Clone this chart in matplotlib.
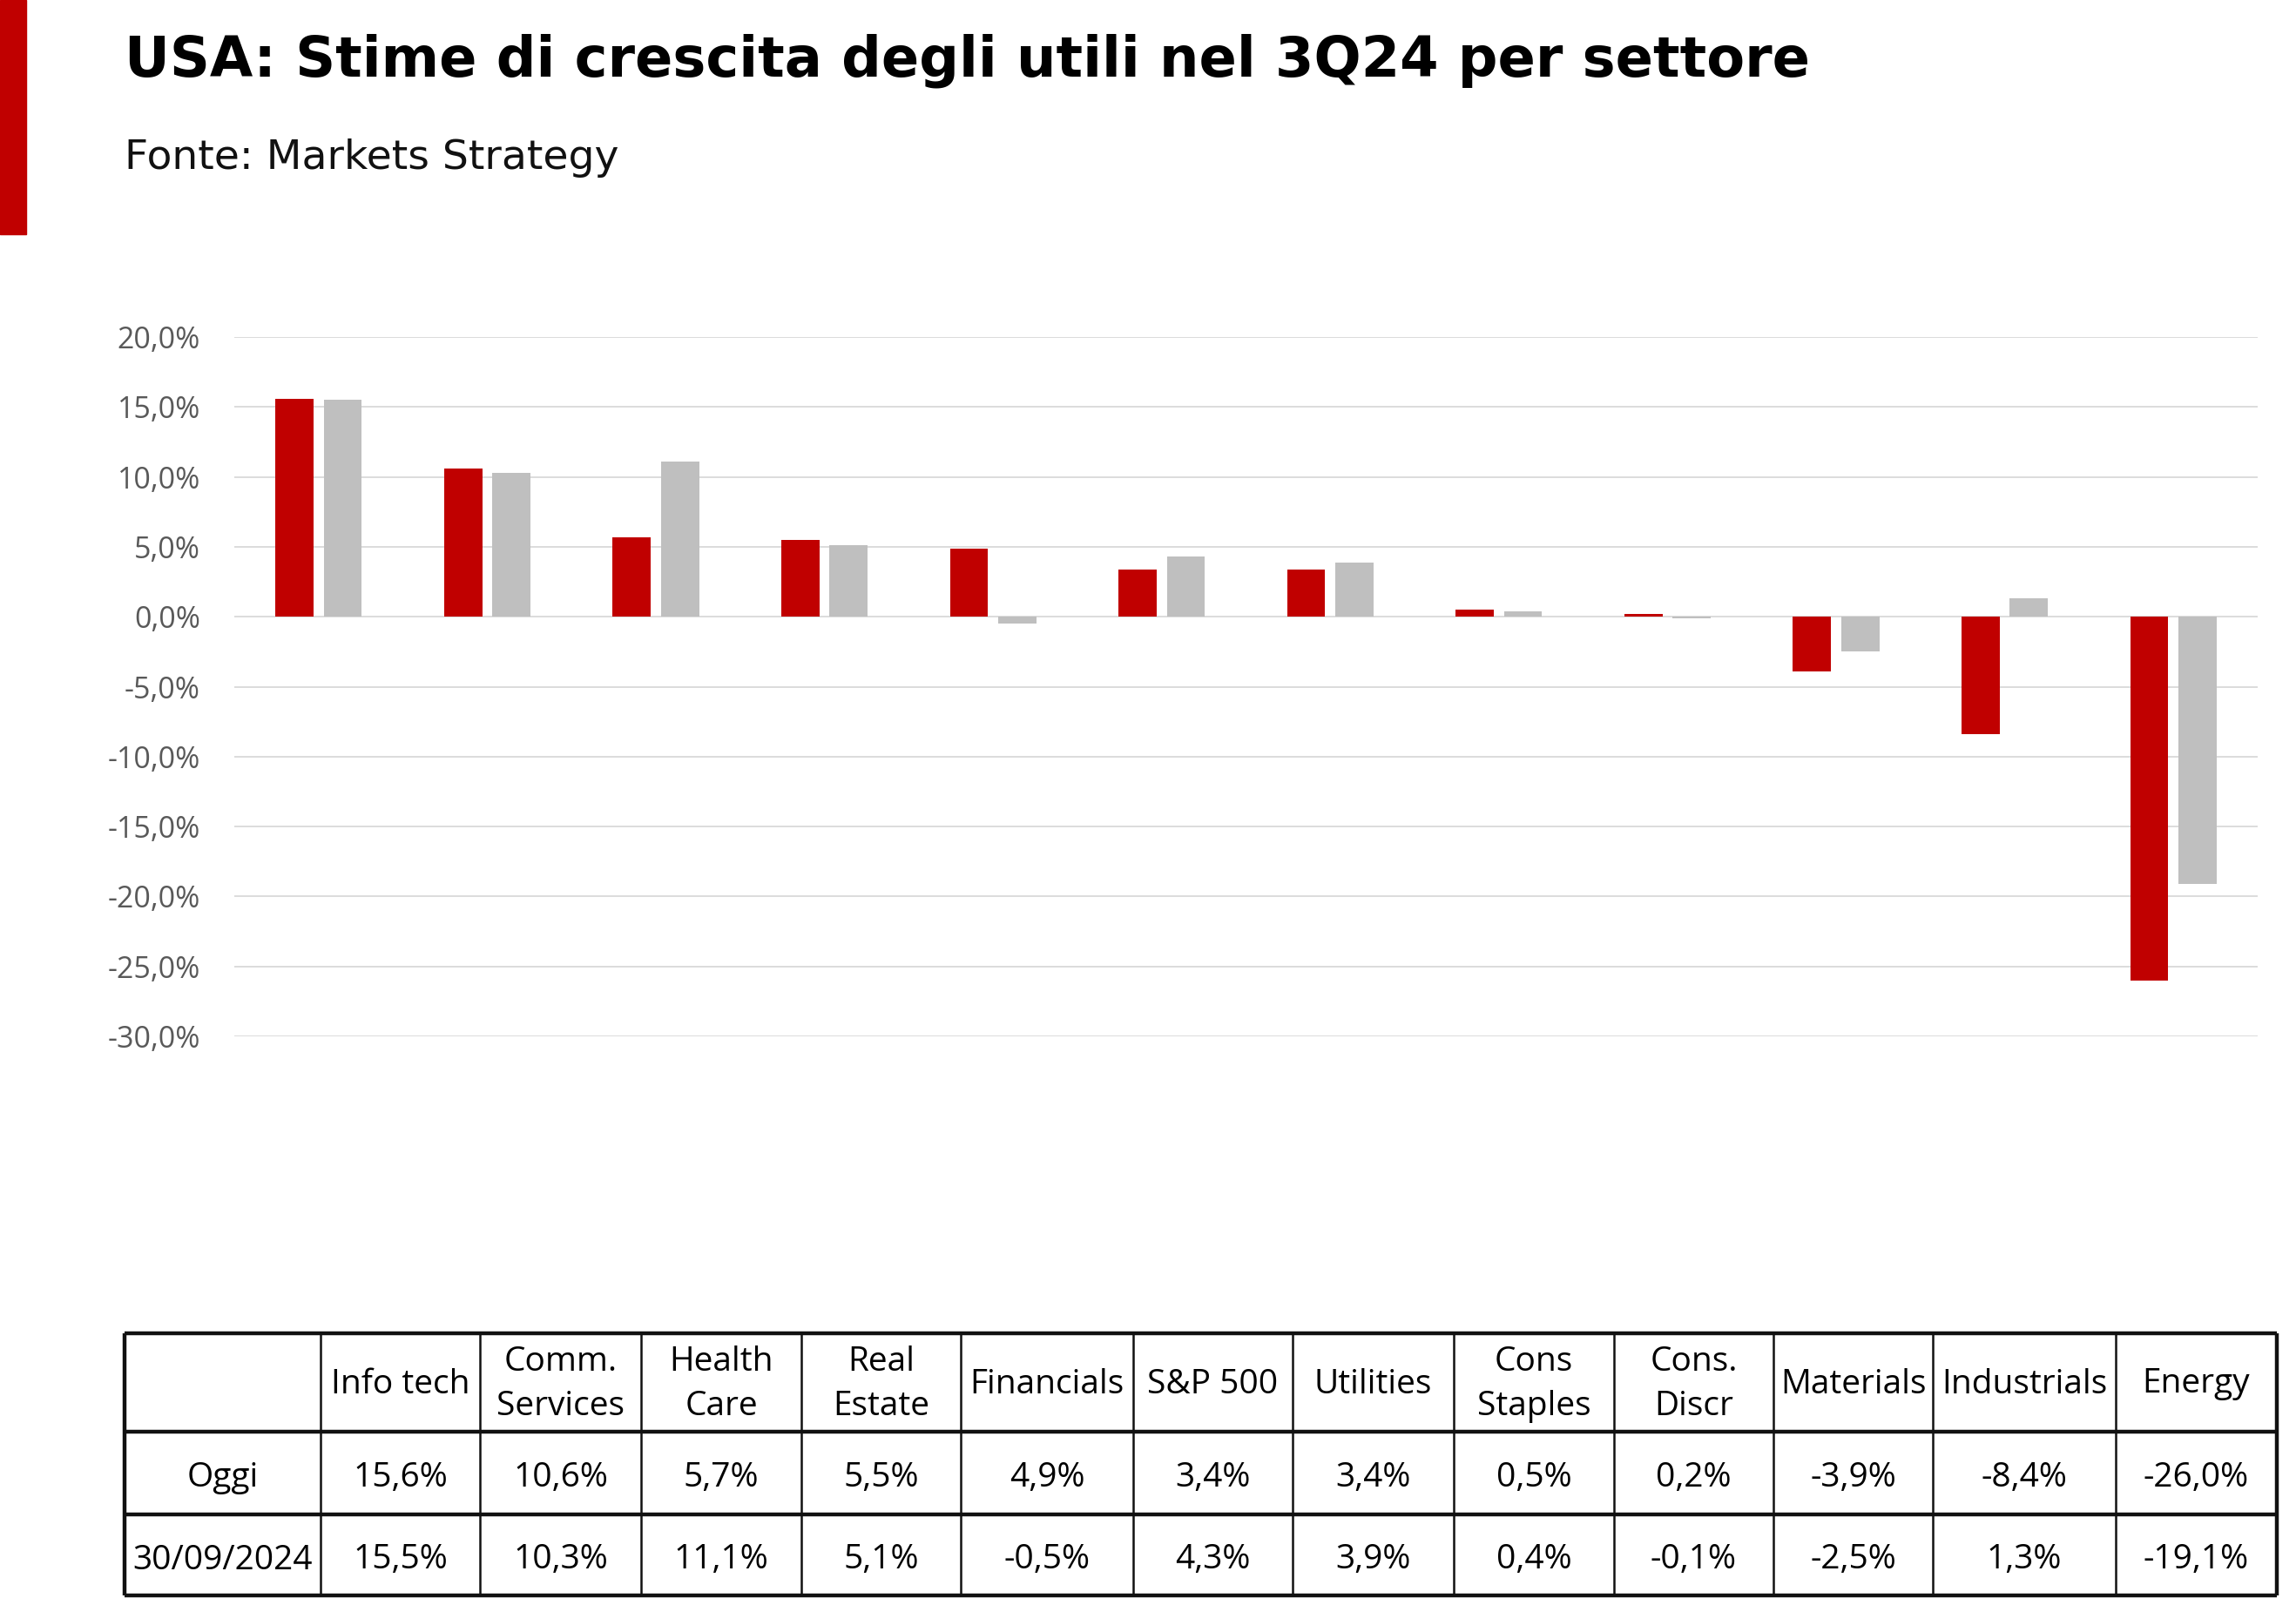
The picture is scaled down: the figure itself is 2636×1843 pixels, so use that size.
import matplotlib
matplotlib.use("Agg")
import matplotlib.pyplot as plt
from matplotlib.ticker import FuncFormatter
import numpy as np

# ---------------- data ----------------
categories = ["Info tech", "Comm.\nServices", "Health\nCare", "Real\nEstate", "Financials",
              "S&P 500", "Utilities", "Cons\nStaples", "Cons.\nDiscr", "Materials",
              "Industrials", "Energy"]
series_names = ["Oggi", "30/09/2024"]
oggi = [15.6, 10.6, 5.7, 5.5, 4.9, 3.4, 3.4, 0.5, 0.2, -3.9, -8.4, -26.0]
sett = [15.5, 10.3, 11.1, 5.1, -0.5, 4.3, 3.9, 0.4, -0.1, -2.5, 1.3, -19.1]
y_ticks = [20, 15, 10, 5, 0, -5, -10, -15, -20, -25, -30]

title = "USA: Stime di crescita degli utili nel 3Q24 per settore"
subtitle = "Fonte: Markets Strategy"

RED = "#C00000"
GREY = "#BFBFBF"

W, H = 2636, 1843
fig = plt.figure(figsize=(W / 100, H / 100), dpi=100)

def fx(px):
    return px / W

def fy(py):
    return 1 - py / H

# red accent bar
fig.patches.append(plt.Rectangle((0, fy(269)), fx(30), 269 / H, transform=fig.transFigure,
                                 color=RED, zorder=5))
fig.text(fx(143), fy(70), title, fontsize=46, fontweight="bold", family=["DejaVu Sans"],
         va="center", ha="left", color="black")
fig.text(fx(143), fy(182), subtitle, fontsize=34, family=["DejaVu Sans"],
         va="center", ha="left", color="#111111")

# ---------------- chart ----------------
ax = fig.add_axes([fx(269), fy(1190), fx(2592 - 269), (1190 - 387) / H])
x = np.arange(len(categories))
bw = 0.226
off = 0.143
ax.bar(x - off, oggi, bw, color=RED, zorder=3)
ax.bar(x + off, sett, bw, color=GREY, zorder=3)
ax.set_xlim(-0.5, len(categories) - 0.5)
ax.set_ylim(min(y_ticks), max(y_ticks))
ax.set_yticks(y_ticks)
ax.yaxis.set_major_formatter(FuncFormatter(lambda v, p: f"{v:.1f}%".replace(".", ",")))
ax.grid(axis="y", color="#D9D9D9", linewidth=1.3, zorder=0)
ax.set_xticks([])
for s in ax.spines.values():
    s.set_visible(False)
ax.tick_params(axis="y", length=0, pad=28, labelsize=24.5, labelcolor="#595959")
for lab in ax.get_yticklabels():
    lab.set_family(["Open Sans", "DejaVu Sans"])

# ---------------- table ----------------
tab = fig.add_axes([0, 0, 1, 1])
tab.set_xlim(0, W)
tab.set_ylim(H, 0)
tab.axis("off")
col_edges = [143, 368, 551, 736, 920, 1103, 1301, 1484, 1669, 1853, 2036, 2219, 2429, 2614]
row_edges = [1531, 1644, 1739, 1832]
tfont = ["Open Sans", "DejaVu Sans"]
tsize = 28

for yv in row_edges:
    tab.plot([col_edges[0], col_edges[-1]], [yv, yv], color="#111111", lw=3.2, solid_capstyle="butt")
for i, xv in enumerate(col_edges):
    lw = 3.2 if i in (0, len(col_edges) - 1) else 1.8
    tab.plot([xv, xv], [row_edges[0], row_edges[-1]], color="#111111", lw=lw, solid_capstyle="butt")

def fmt(v):
    return f"{v:.1f}%".replace(".", ",")

rows = [[fmt(v) for v in oggi], [fmt(v) for v in sett]]
for j, cat in enumerate(categories):
    cx = (col_edges[j + 1] + col_edges[j + 2]) / 2
    tab.text(cx, (row_edges[0] + row_edges[1]) / 2 + 2, cat, ha="center", va="center",
             fontsize=tsize, family=tfont, linespacing=1.45)
    for r in range(2):
        tab.text(cx, (row_edges[r + 1] + row_edges[r + 2]) / 2 + 6, rows[r][j], ha="center",
                 va="center", fontsize=tsize, family=tfont)
for r, name in enumerate(series_names):
    cx = (col_edges[0] + col_edges[1]) / 2
    tab.text(cx, (row_edges[r + 1] + row_edges[r + 2]) / 2 + 6, name, ha="center", va="center",
             fontsize=tsize, family=tfont)

fig.savefig("out.png", dpi=100, facecolor="white")
